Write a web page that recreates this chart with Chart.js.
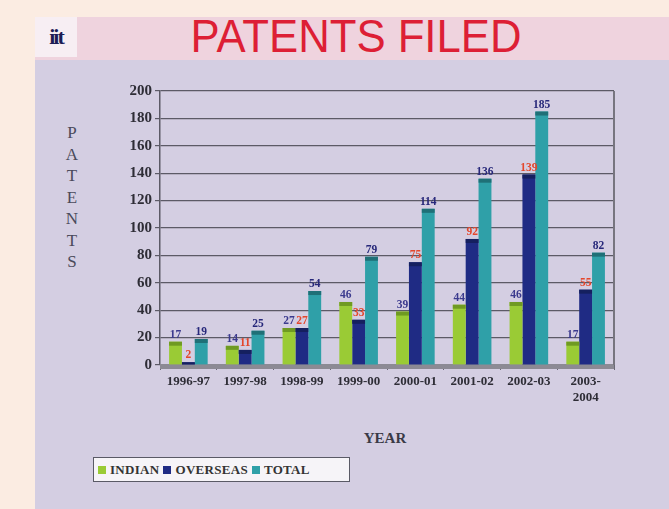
<!DOCTYPE html>
<html>
<head>
<meta charset="utf-8">
<script src="https://cdn.jsdelivr.net/npm/chart.js@4.4.1/dist/chart.umd.min.js"></script>
<style>
  html, body { margin: 0; padding: 0; }
  body { width: 669px; height: 509px; background: #fbece2; position: relative; overflow: hidden; }
  .band { position: absolute; left: 35px; top: 17px; width: 634px; height: 43px; background: #efd3de; }
  .logo { position: absolute; left: 35px; top: 17px; width: 42px; height: 40px; background: #f7eef3;
          font: bold 22px "Liberation Serif", serif; color: #1c1c55; text-align: center; line-height: 40px; letter-spacing: -2px; }
  .panel { position: absolute; left: 35px; top: 60px; width: 634px; height: 449px; background: #d4cee2; }
  .title { position: absolute; left: 0; top: 9px; width: 712px; text-align: center;
           font: 46px "Liberation Sans", Arial, sans-serif; color: #dd1f35; transform: scaleX(0.95); transform-origin: 356px 0; }
  .ytitle { position: absolute; left: 64px; top: 122px; width: 16px; text-align: center;
            font: 17px "Liberation Serif", serif; color: #4a4a5a; line-height: 21.5px; }
  .xtitle { position: absolute; left: 335px; top: 430px; width: 100px; text-align: center;
            font: bold 15px "Liberation Serif", serif; color: #3a3a46; }
  .legend { position: absolute; left: 93px; top: 457px; width: 257px; height: 25px; background: #f6f4f8;
            border: 1px solid #5a5a66; box-sizing: border-box; font: bold 13px "Liberation Serif", serif; color: #333;
            display: flex; align-items: center; padding-left: 4px; gap: 4px; white-space: nowrap; letter-spacing: 0.3px; }
  .legend i { display: inline-block; width: 8px; height: 8px; margin-right: 4px; }
  canvas { position: absolute; left: 0; top: 0; }
</style>
</head>
<body>
<div class="band"></div>
<div class="panel"></div>
<div class="logo">iit</div>
<div class="title">PATENTS FILED</div>
<div class="ytitle">P<br>A<br>T<br>E<br>N<br>T<br>S</div>
<div class="xtitle">YEAR</div>
<div class="legend" id="legend"></div>
<canvas id="chart" width="669" height="509"></canvas>
<script>
// --- Data ---
const years = ["1996-97", "1997-98", "1998-99", "1999-00", "2000-01", "2001-02", "2002-03", ["2003-", "2004"]];
const indian = [17, 14, 27, 46, 39, 44, 46, 17];
const overseas = [2, 11, 27, 33, 75, 92, 139, 55];
const total = [19, 25, 54, 79, 114, 136, 185, 82];
const yTicks = [0, 20, 40, 60, 80, 100, 120, 140, 160, 180, 200];

const seriesNames = ["INDIAN", "OVERSEAS", "TOTAL"];
const barColors = ["#9acb35", "#1f2b84", "#2fa0a8"];
const capColors = ["#6f9a22", "#15205f", "#1f7077"];
const labelColors = ["#3b3a8e", "#e4472c", "#27287a"];

// --- Legend (boxed, as in the slide) ---
document.getElementById("legend").innerHTML = seriesNames
  .map((n, i) => `<span><i style="background:${barColors[i]}"></i>${n}</span>`)
  .join("");

// --- Darker top caps (the old 3D look) + value labels ---
const valueLabels = {
  id: "valueLabels",
  afterDatasetsDraw(chart) {
    const ctx = chart.ctx;
    ctx.save();
    chart.data.datasets.forEach((ds, di) => {
      const meta = chart.getDatasetMeta(di);
      ctx.fillStyle = capColors[di];
      meta.data.forEach(bar => {
        const h = Math.min(4, bar.base - bar.y);
        ctx.fillRect(bar.x - bar.width / 2, bar.y, bar.width, h);
      });
    });
    ctx.font = "bold 11.5px 'Liberation Serif', serif";
    ctx.textAlign = "center";
    ctx.textBaseline = "bottom";
    chart.data.datasets.forEach((ds, di) => {
      const meta = chart.getDatasetMeta(di);
      ctx.fillStyle = labelColors[di];
      meta.data.forEach((bar, i) => {
        ctx.fillText(ds.data[i], bar.x, bar.y - 1);
      });
    });
    ctx.restore();
  }
};

// --- Right border of the plot + grey floor ---
const frame = {
  id: "frame",
  beforeDatasetsDraw(chart) {
    const { ctx, chartArea: a } = chart;
    ctx.save();
    ctx.fillStyle = "#8c8a94";
    ctx.fillRect(a.left, a.bottom - 1, a.right - a.left, 5);
    ctx.strokeStyle = "#77757f";
    ctx.lineWidth = 2;
    ctx.beginPath();
    ctx.moveTo(a.right, a.top);
    ctx.lineTo(a.right, a.bottom);
    ctx.stroke();
    ctx.restore();
  }
};

new Chart(document.getElementById("chart"), {
  type: "bar",
  data: {
    labels: years,
    datasets: seriesNames.map((n, i) => ({
      label: n,
      data: [indian, overseas, total][i],
      backgroundColor: barColors[i],
      barPercentage: 1.0,
      categoryPercentage: 0.68
    }))
  },
  options: {
    responsive: false,
    animation: false,
    layout: { padding: { top: 91, right: 55, bottom: 94, left: 0 } },
    plugins: { legend: { display: false }, tooltip: { enabled: false } },
    scales: {
      x: {
        afterFit: s => { s.height = 50; },
        grid: { drawOnChartArea: false, offset: true, tickLength: 5, color: "#6a6874" },
        border: { display: false },
        ticks: {
          color: "#2e2d36",
          font: { family: "'Liberation Serif', serif", size: 13, weight: "bold" },
          maxRotation: 0, autoSkip: false, padding: 4
        }
      },
      y: {
        min: 0, max: 200,
        afterFit: s => { s.width = 160; },
        afterBuildTicks: s => { s.ticks = yTicks.map(v => ({ value: v })); },
        grid: { color: "#5c5a66", lineWidth: 1.2, tickLength: 5 },
        border: { color: "#5c5a66", width: 1.5 },
        ticks: {
          color: "#2e2d36",
          font: { family: "'Liberation Serif', serif", size: 15, weight: "bold" },
          padding: 3
        }
      }
    }
  },
  plugins: [frame, valueLabels]
});
</script>
</body>
</html>
